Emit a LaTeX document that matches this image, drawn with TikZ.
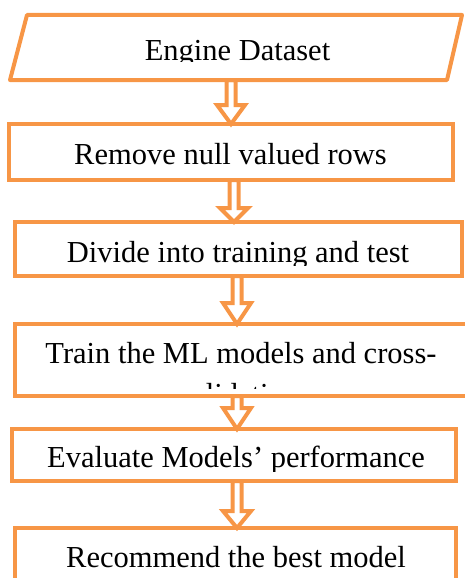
\documentclass[tikz,border=0pt]{standalone}
\usepackage{fontspec}
\setmainfont{Liberation Serif}
\usetikzlibrary{calc,backgrounds}
\definecolor{acc}{HTML}{F79646}
\tikzset{
  boxline/.style={draw=acc, line width=4pt, outer sep=0pt, inner sep=0pt},
  rectbox/.style={boxline, rectangle},
  frame/.style={rectangle, inner sep=0pt, outer sep=0pt},
  lbl/.style={anchor=base, inner sep=0pt, font=\fontsize{30.5}{36}\selectfont, text=black},
  hollow/.style={draw=acc, fill=white, line width=4pt, line join=miter},
}
\newcommand\hollowarrow[4]{%
  \draw[hollow] let \p1=(#2.south), \p2=(#3.north) in
   (#1pt-4.5pt,\y1) -- (#1pt-4.5pt,-#4pt) -- (#1pt-14pt,-#4pt) -- (#1pt,\y2)
   -- (#1pt+14pt,-#4pt) -- (#1pt+4.5pt,-#4pt) -- (#1pt+4.5pt,\y1) -- cycle;}
\begin{document}
\begin{tikzpicture}[x=1pt,y=-1pt]
\useasboundingbox (0,0) rectangle (464,578);
% boxes
\node[frame, minimum width=452pt, minimum height=65pt] (b1) at (236,47.5) {};
\draw[boxline, line join=round] (b1.south west) -- ([xshift=17pt]b1.north west)
   -- (b1.north east) -- ([xshift=-15pt]b1.south east) -- cycle;
\node[rectbox, minimum width=444pt, minimum height=56pt] (b2) at (231,152) {};
\node[rectbox, minimum width=447pt, minimum height=54pt] (b3) at (238.5,249) {};
\node[rectbox, minimum width=455pt, minimum height=72pt] (b4) at (242.5,360) {};
\node[rectbox, minimum width=444pt, minimum height=52pt] (b5) at (234,455) {};
\node[rectbox, minimum width=441pt, minimum height=72pt] (b6) at (235.5,564) {};
% texts
\begin{scope}
  \clip (10,15) rectangle (464,62);
  \node[lbl] (t1) at (237.5,61) {Engine Dataset};
\end{scope}
\node[lbl] (t2) at (230.5,164) {Remove null valued rows};
\begin{scope}
  \clip (15,222) rectangle (464,265);
  \node[lbl] (t3) at (238,262) {Divide into training and test};
\end{scope}
\begin{scope}
  \clip (15,324) rectangle (464,388);
  \node[lbl] (t4a) at (241,363) {Train the ML models and cross-};
  \node[lbl] (t4b) at (238,404) {validation};
\end{scope}
\begin{scope}
  \clip (12,429) rectangle (464,471);
  \node[lbl] (t5) at (236,467) {Evaluate Models’ performance};
\end{scope}
\node[lbl] (t6) at (236,567) {Recommend the best model};
% arrows
\begin{scope}[on background layer]
  \hollowarrow{231}{b1}{b2}{105}
  \hollowarrow{234}{b2}{b3}{208}
  \hollowarrow{237}{b3}{b4}{303}
  \hollowarrow{237}{b4}{b5}{408}
  \hollowarrow{237}{b5}{b6}{511}
\end{scope}
\end{tikzpicture}
\end{document}
